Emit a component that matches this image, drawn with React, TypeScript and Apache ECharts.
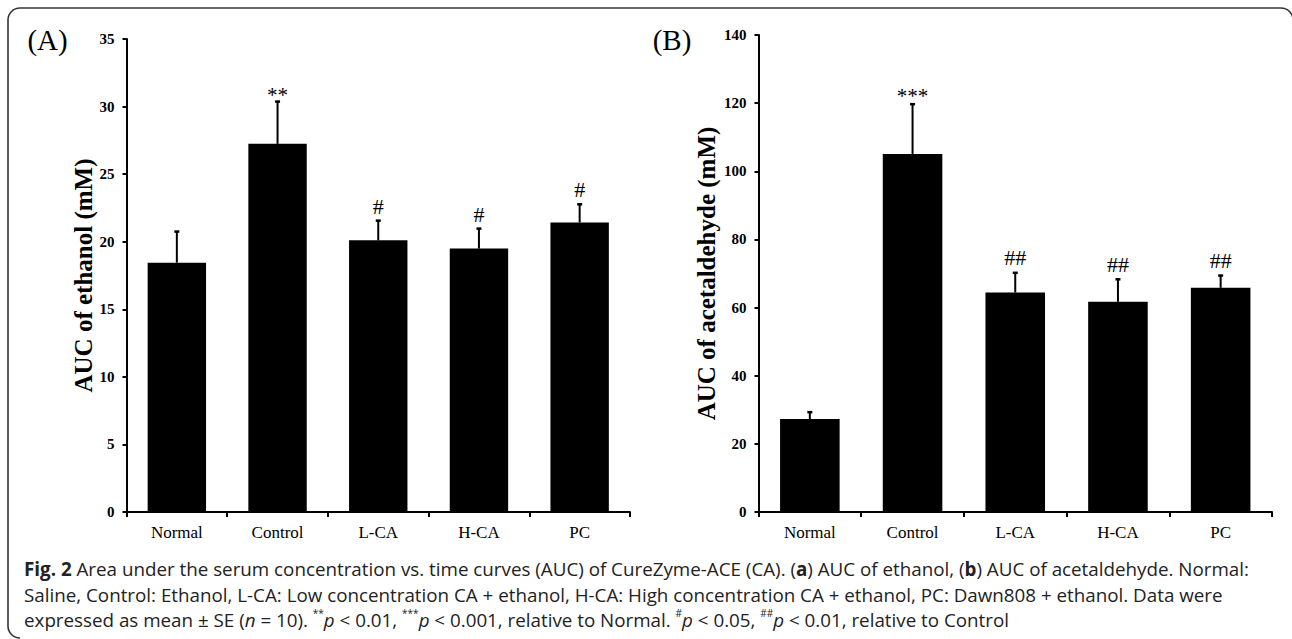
import React, { useEffect, useRef } from "react";
import * as echarts from "echarts";

const categories = ["Normal", "Control", "L-CA", "H-CA", "PC"];
const ethanolMean = [18.45, 27.24, 20.1, 19.49, 21.42];
const ethanolSE = [2.3, 3.13, 1.46, 1.48, 1.35];
const ethanolMarks = ["", "**", "#", "#", "#"];
const acetMean = [27.3, 105.1, 64.4, 61.7, 65.8];
const acetSE = [2.0, 14.6, 5.8, 6.6, 3.6];
const acetMarks = ["", "***", "##", "##", "##"];

const yTicksA = { min: 0, max: 35, interval: 5 };
const yTicksB = { min: 0, max: 140, interval: 20 };

const SERIF = "'Liberation Serif', 'Times New Roman', serif";
const SANS = "'Open Sans', 'Noto Sans', sans-serif";
const CAP_SIZE = 18.8;

function errorSeries(idx: number, means: number[], ses: number[], marks: string[], starOff: number, hashOff: number) {
  return {
    type: "custom",
    xAxisIndex: idx,
    yAxisIndex: idx,
    data: means.map((m, i) => [i, m, ses[i]]),
    renderItem: (params: any, api: any) => {
      const i = api.value(0);
      const m = api.value(1);
      const s = api.value(2);
      const base = api.coord([i, m]);
      const top = api.coord([i, m + s]);
      const mark = marks[params.dataIndex];
      const children: any[] = [
        {
          type: "line",
          shape: { x1: base[0], y1: base[1], x2: top[0], y2: top[1] },
          style: { stroke: "#000", lineWidth: 2 },
        },
        {
          type: "line",
          shape: { x1: top[0] - 2.5, y1: top[1], x2: top[0] + 2.5, y2: top[1] },
          style: { stroke: "#000", lineWidth: 2.5 },
        },
      ];
      if (mark) {
        const isStar = mark.indexOf("*") >= 0;
        children.push({
          type: "text",
          x: top[0],
          y: top[1] + (isStar ? starOff : hashOff),
          style: {
            text: mark,
            fill: "#000",
            font: `${isStar ? 21 : 22}px ${SERIF}`,
            align: "center",
            verticalAlign: "middle",
          },
        });
      }
      return { type: "group", children };
    },
    z: 5,
  };
}

function xAxis(gridIndex: number) {
  return {
    type: "category",
    gridIndex,
    data: categories,
    axisLine: { show: true, lineStyle: { color: "#000", width: 2 } },
    axisTick: { show: true, length: 5, lineStyle: { color: "#000", width: 2 } },
    axisLabel: { color: "#000", fontFamily: SERIF, fontSize: 17, margin: 12 },
    splitLine: { show: false },
  };
}

function yAxis(gridIndex: number, ticks: any, name: string, nameGap: number) {
  return {
    type: "value",
    gridIndex,
    min: ticks.min,
    max: ticks.max,
    interval: ticks.interval,
    name,
    nameLocation: "middle",
    nameGap,
    nameTextStyle: { color: "#000", fontFamily: SERIF, fontWeight: "bold", fontSize: 25 },
    axisLine: { show: true, lineStyle: { color: "#000", width: 2 } },
    axisTick: { show: true, length: 4, lineStyle: { color: "#000", width: 2 } },
    axisLabel: { color: "#000", fontFamily: SERIF, fontWeight: "bold", fontSize: 15, margin: 12 },
    splitLine: { show: false },
  };
}

const richCap = {
  b: { fontFamily: SANS, fontSize: CAP_SIZE, fontWeight: "bold", fill: "#222" },
  i: { fontFamily: SANS, fontSize: CAP_SIZE, fontStyle: "italic", fill: "#222" },
  sup: { fontFamily: SANS, fontSize: 10, fill: "#222", verticalAlign: "top", lineHeight: 24 },
};

export default function App() {
  const ref = useRef<HTMLDivElement>(null);
  useEffect(() => {
    if (!ref.current) return;
    const chart = echarts.init(ref.current, undefined, { renderer: "svg" });
    const borderStyle = { stroke: "#333", lineWidth: 1.6, fill: "none" };
    const capBase = { fontFamily: SANS, fontSize: CAP_SIZE, fill: "#222", lineHeight: 24 };
    chart.setOption({
      animation: false,
      backgroundColor: "#fff",
      grid: [
        { left: 126.5, top: 39, width: 503.5, height: 473 },
        { left: 758.5, top: 35, width: 513.5, height: 477 },
      ],
      xAxis: [xAxis(0), xAxis(1)],
      yAxis: [
        yAxis(0, yTicksA, "AUC of ethanol (mM)", 30),
        yAxis(1, yTicksB, "AUC of acetaldehyde (mM)", 40),
      ],
      series: [
        {
          type: "bar",
          xAxisIndex: 0,
          yAxisIndex: 0,
          data: ethanolMean,
          barWidth: "58%",
          itemStyle: { color: "#000" },
        },
        errorSeries(0, ethanolMean, ethanolSE, ethanolMarks, -7, -14.5),
        {
          type: "bar",
          xAxisIndex: 1,
          yAxisIndex: 1,
          data: acetMean,
          barWidth: "58%",
          itemStyle: { color: "#000" },
        },
        errorSeries(1, acetMean, acetSE, acetMarks, -8, -15),
      ],
      graphic: [
        { type: "line", shape: { x1: 20, y1: 8, x2: 1281, y2: 8 }, style: borderStyle },
        { type: "line", shape: { x1: 8, y1: 20, x2: 8, y2: 626 }, style: borderStyle },
        { type: "arc", shape: { cx: 20, cy: 20, r: 12, startAngle: Math.PI, endAngle: Math.PI * 1.5, clockwise: true }, style: borderStyle },
        { type: "arc", shape: { cx: 1281, cy: 20, r: 12, startAngle: Math.PI * 1.5, endAngle: Math.PI * 2, clockwise: true }, style: borderStyle },
        { type: "arc", shape: { cx: 20, cy: 626, r: 12, startAngle: Math.PI * 0.5, endAngle: Math.PI, clockwise: true }, style: borderStyle },
        { type: "text", x: 47.5, y: 40, style: { text: "(A)", font: `29px ${SERIF}`, fill: "#000", align: "center", verticalAlign: "middle" } },
        { type: "text", x: 672, y: 40, style: { text: "(B)", font: `29px ${SERIF}`, fill: "#000", align: "center", verticalAlign: "middle" } },
        {
          type: "text",
          x: 24,
          y: 569,
          style: {
            ...capBase,
            text: "{b|Fig. 2} Area under the serum concentration vs. time curves (AUC) of CureZyme-ACE (CA). ({b|a}) AUC of ethanol, ({b|b}) AUC of acetaldehyde. Normal:",
            verticalAlign: "middle",
            rich: richCap,
          },
        },
        {
          type: "text",
          x: 24,
          y: 595,
          style: {
            ...capBase,
            text: "Saline, Control: Ethanol, L-CA: Low concentration CA + ethanol, H-CA: High concentration CA + ethanol, PC: Dawn808 + ethanol. Data were",
            verticalAlign: "middle",
          },
        },
        {
          type: "text",
          x: 24,
          y: 620,
          style: {
            ...capBase,
            text: "expressed as mean ± SE ({i|n} = 10). {sup|**}{i|p} < 0.01, {sup|***}{i|p} < 0.001, relative to Normal. {sup|#}{i|p} < 0.05, {sup|##}{i|p} < 0.01, relative to Control",
            verticalAlign: "middle",
            rich: richCap,
          },
        },
      ],
    });
    return () => chart.dispose();
  }, []);
  return (
    <div
      ref={ref}
      style={{ position: "fixed", left: 0, top: 0, width: 1292, height: 639, background: "#fff" }}
    />
  );
}
